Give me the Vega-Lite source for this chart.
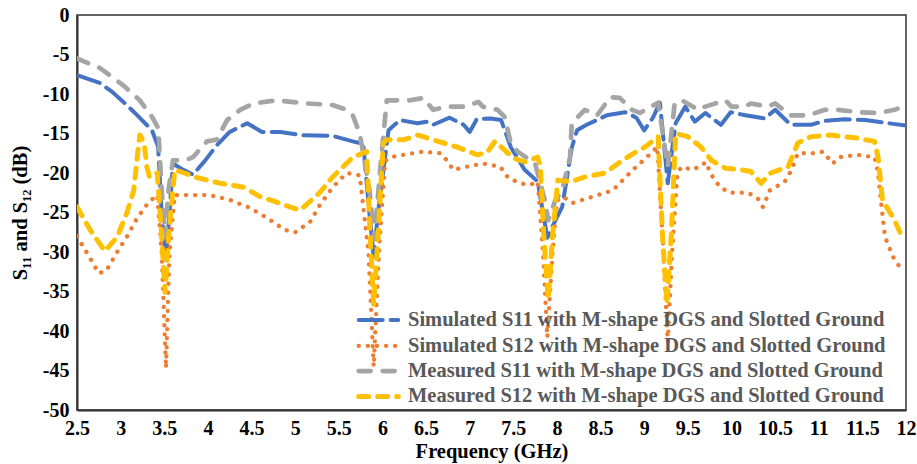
{
  "$schema": "https://vega.github.io/schema/vega-lite/v6.json",
  "width": 829,
  "height": 395,
  "autosize": {"type": "none"},
  "padding": {"left": 77, "top": 15, "right": 11, "bottom": 54},
  "background": "white",
  "config": {
    "view": {"stroke": "#333333", "strokeWidth": 1.5},
    "font": "Liberation Serif"
  },
  "datasets": {
    "d": [
      {"s": "Simulated S11 with M-shape DGS and Slotted Ground", "f": 2.5, "v": -7.6},
      {"s": "Simulated S11 with M-shape DGS and Slotted Ground", "f": 2.76, "v": -8.6},
      {"s": "Simulated S11 with M-shape DGS and Slotted Ground", "f": 2.9, "v": -9.7},
      {"s": "Simulated S11 with M-shape DGS and Slotted Ground", "f": 3.07, "v": -11.4},
      {"s": "Simulated S11 with M-shape DGS and Slotted Ground", "f": 3.2, "v": -12.8},
      {"s": "Simulated S11 with M-shape DGS and Slotted Ground", "f": 3.36, "v": -14.6},
      {"s": "Simulated S11 with M-shape DGS and Slotted Ground", "f": 3.43, "v": -16.7},
      {"s": "Simulated S11 with M-shape DGS and Slotted Ground", "f": 3.47, "v": -25},
      {"s": "Simulated S11 with M-shape DGS and Slotted Ground", "f": 3.52, "v": -31},
      {"s": "Simulated S11 with M-shape DGS and Slotted Ground", "f": 3.56, "v": -25},
      {"s": "Simulated S11 with M-shape DGS and Slotted Ground", "f": 3.6, "v": -18.8},
      {"s": "Simulated S11 with M-shape DGS and Slotted Ground", "f": 3.7, "v": -19.5},
      {"s": "Simulated S11 with M-shape DGS and Slotted Ground", "f": 3.83, "v": -20.2},
      {"s": "Simulated S11 with M-shape DGS and Slotted Ground", "f": 3.97, "v": -18.4},
      {"s": "Simulated S11 with M-shape DGS and Slotted Ground", "f": 4.1, "v": -16.5},
      {"s": "Simulated S11 with M-shape DGS and Slotted Ground", "f": 4.25, "v": -14.8},
      {"s": "Simulated S11 with M-shape DGS and Slotted Ground", "f": 4.45, "v": -13.7},
      {"s": "Simulated S11 with M-shape DGS and Slotted Ground", "f": 4.62, "v": -14.8},
      {"s": "Simulated S11 with M-shape DGS and Slotted Ground", "f": 4.83, "v": -14.8},
      {"s": "Simulated S11 with M-shape DGS and Slotted Ground", "f": 5.06, "v": -15.2},
      {"s": "Simulated S11 with M-shape DGS and Slotted Ground", "f": 5.43, "v": -15.3},
      {"s": "Simulated S11 with M-shape DGS and Slotted Ground", "f": 5.66, "v": -16.0},
      {"s": "Simulated S11 with M-shape DGS and Slotted Ground", "f": 5.78, "v": -16.3},
      {"s": "Simulated S11 with M-shape DGS and Slotted Ground", "f": 5.85, "v": -25},
      {"s": "Simulated S11 with M-shape DGS and Slotted Ground", "f": 5.9, "v": -30.6},
      {"s": "Simulated S11 with M-shape DGS and Slotted Ground", "f": 5.95, "v": -25},
      {"s": "Simulated S11 with M-shape DGS and Slotted Ground", "f": 6.07, "v": -14.6},
      {"s": "Simulated S11 with M-shape DGS and Slotted Ground", "f": 6.2, "v": -13.3},
      {"s": "Simulated S11 with M-shape DGS and Slotted Ground", "f": 6.4, "v": -13.7},
      {"s": "Simulated S11 with M-shape DGS and Slotted Ground", "f": 6.51, "v": -13.5},
      {"s": "Simulated S11 with M-shape DGS and Slotted Ground", "f": 6.58, "v": -13.9},
      {"s": "Simulated S11 with M-shape DGS and Slotted Ground", "f": 6.77, "v": -13.0},
      {"s": "Simulated S11 with M-shape DGS and Slotted Ground", "f": 6.93, "v": -13.9},
      {"s": "Simulated S11 with M-shape DGS and Slotted Ground", "f": 7.0, "v": -14.8},
      {"s": "Simulated S11 with M-shape DGS and Slotted Ground", "f": 7.08, "v": -13.2},
      {"s": "Simulated S11 with M-shape DGS and Slotted Ground", "f": 7.24, "v": -13.1},
      {"s": "Simulated S11 with M-shape DGS and Slotted Ground", "f": 7.36, "v": -13.3},
      {"s": "Simulated S11 with M-shape DGS and Slotted Ground", "f": 7.47, "v": -16.7},
      {"s": "Simulated S11 with M-shape DGS and Slotted Ground", "f": 7.63, "v": -19.6},
      {"s": "Simulated S11 with M-shape DGS and Slotted Ground", "f": 7.78, "v": -21.1},
      {"s": "Simulated S11 with M-shape DGS and Slotted Ground", "f": 7.84, "v": -25},
      {"s": "Simulated S11 with M-shape DGS and Slotted Ground", "f": 7.89, "v": -28.2},
      {"s": "Simulated S11 with M-shape DGS and Slotted Ground", "f": 7.96, "v": -26.5},
      {"s": "Simulated S11 with M-shape DGS and Slotted Ground", "f": 8.06, "v": -24.3},
      {"s": "Simulated S11 with M-shape DGS and Slotted Ground", "f": 8.17, "v": -16.8},
      {"s": "Simulated S11 with M-shape DGS and Slotted Ground", "f": 8.23, "v": -14.6},
      {"s": "Simulated S11 with M-shape DGS and Slotted Ground", "f": 8.34, "v": -13.9},
      {"s": "Simulated S11 with M-shape DGS and Slotted Ground", "f": 8.57, "v": -12.7},
      {"s": "Simulated S11 with M-shape DGS and Slotted Ground", "f": 8.78, "v": -12.3},
      {"s": "Simulated S11 with M-shape DGS and Slotted Ground", "f": 8.91, "v": -13.0},
      {"s": "Simulated S11 with M-shape DGS and Slotted Ground", "f": 9.0, "v": -14.6},
      {"s": "Simulated S11 with M-shape DGS and Slotted Ground", "f": 9.1, "v": -13.0},
      {"s": "Simulated S11 with M-shape DGS and Slotted Ground", "f": 9.18, "v": -11.1},
      {"s": "Simulated S11 with M-shape DGS and Slotted Ground", "f": 9.27, "v": -21.3},
      {"s": "Simulated S11 with M-shape DGS and Slotted Ground", "f": 9.36, "v": -13.7},
      {"s": "Simulated S11 with M-shape DGS and Slotted Ground", "f": 9.47, "v": -11.6},
      {"s": "Simulated S11 with M-shape DGS and Slotted Ground", "f": 9.58, "v": -13.5},
      {"s": "Simulated S11 with M-shape DGS and Slotted Ground", "f": 9.7, "v": -12.4},
      {"s": "Simulated S11 with M-shape DGS and Slotted Ground", "f": 9.88, "v": -13.9},
      {"s": "Simulated S11 with M-shape DGS and Slotted Ground", "f": 9.99, "v": -12.3},
      {"s": "Simulated S11 with M-shape DGS and Slotted Ground", "f": 10.16, "v": -12.7},
      {"s": "Simulated S11 with M-shape DGS and Slotted Ground", "f": 10.38, "v": -13.1},
      {"s": "Simulated S11 with M-shape DGS and Slotted Ground", "f": 10.5, "v": -12.0},
      {"s": "Simulated S11 with M-shape DGS and Slotted Ground", "f": 10.68, "v": -13.9},
      {"s": "Simulated S11 with M-shape DGS and Slotted Ground", "f": 10.91, "v": -13.9},
      {"s": "Simulated S11 with M-shape DGS and Slotted Ground", "f": 11.07, "v": -13.4},
      {"s": "Simulated S11 with M-shape DGS and Slotted Ground", "f": 11.3, "v": -13.2},
      {"s": "Simulated S11 with M-shape DGS and Slotted Ground", "f": 11.53, "v": -13.3},
      {"s": "Simulated S11 with M-shape DGS and Slotted Ground", "f": 12.0, "v": -14.0},

      {"s": "Simulated S12 with M-shape DGS and Slotted Ground", "f": 2.5, "v": -28.0},
      {"s": "Simulated S12 with M-shape DGS and Slotted Ground", "f": 2.64, "v": -30.6},
      {"s": "Simulated S12 with M-shape DGS and Slotted Ground", "f": 2.75, "v": -32.7},
      {"s": "Simulated S12 with M-shape DGS and Slotted Ground", "f": 2.84, "v": -32.3},
      {"s": "Simulated S12 with M-shape DGS and Slotted Ground", "f": 2.96, "v": -30.0},
      {"s": "Simulated S12 with M-shape DGS and Slotted Ground", "f": 3.07, "v": -28.1},
      {"s": "Simulated S12 with M-shape DGS and Slotted Ground", "f": 3.19, "v": -25.7},
      {"s": "Simulated S12 with M-shape DGS and Slotted Ground", "f": 3.32, "v": -23.7},
      {"s": "Simulated S12 with M-shape DGS and Slotted Ground", "f": 3.42, "v": -22.8},
      {"s": "Simulated S12 with M-shape DGS and Slotted Ground", "f": 3.47, "v": -30},
      {"s": "Simulated S12 with M-shape DGS and Slotted Ground", "f": 3.52, "v": -44.7},
      {"s": "Simulated S12 with M-shape DGS and Slotted Ground", "f": 3.56, "v": -30},
      {"s": "Simulated S12 with M-shape DGS and Slotted Ground", "f": 3.62, "v": -22.8},
      {"s": "Simulated S12 with M-shape DGS and Slotted Ground", "f": 3.79, "v": -22.8},
      {"s": "Simulated S12 with M-shape DGS and Slotted Ground", "f": 4.02, "v": -22.8},
      {"s": "Simulated S12 with M-shape DGS and Slotted Ground", "f": 4.25, "v": -23.4},
      {"s": "Simulated S12 with M-shape DGS and Slotted Ground", "f": 4.48, "v": -24.4},
      {"s": "Simulated S12 with M-shape DGS and Slotted Ground", "f": 4.68, "v": -25.7},
      {"s": "Simulated S12 with M-shape DGS and Slotted Ground", "f": 4.88, "v": -27.2},
      {"s": "Simulated S12 with M-shape DGS and Slotted Ground", "f": 5.0, "v": -27.5},
      {"s": "Simulated S12 with M-shape DGS and Slotted Ground", "f": 5.17, "v": -26.2},
      {"s": "Simulated S12 with M-shape DGS and Slotted Ground", "f": 5.28, "v": -24.1},
      {"s": "Simulated S12 with M-shape DGS and Slotted Ground", "f": 5.43, "v": -21.8},
      {"s": "Simulated S12 with M-shape DGS and Slotted Ground", "f": 5.59, "v": -20.0},
      {"s": "Simulated S12 with M-shape DGS and Slotted Ground", "f": 5.74, "v": -20.3},
      {"s": "Simulated S12 with M-shape DGS and Slotted Ground", "f": 5.84, "v": -30},
      {"s": "Simulated S12 with M-shape DGS and Slotted Ground", "f": 5.9, "v": -44.5},
      {"s": "Simulated S12 with M-shape DGS and Slotted Ground", "f": 5.96, "v": -30},
      {"s": "Simulated S12 with M-shape DGS and Slotted Ground", "f": 6.03, "v": -18.5},
      {"s": "Simulated S12 with M-shape DGS and Slotted Ground", "f": 6.09, "v": -18.0},
      {"s": "Simulated S12 with M-shape DGS and Slotted Ground", "f": 6.24, "v": -17.7},
      {"s": "Simulated S12 with M-shape DGS and Slotted Ground", "f": 6.46, "v": -17.3},
      {"s": "Simulated S12 with M-shape DGS and Slotted Ground", "f": 6.66, "v": -17.5},
      {"s": "Simulated S12 with M-shape DGS and Slotted Ground", "f": 6.74, "v": -18.4},
      {"s": "Simulated S12 with M-shape DGS and Slotted Ground", "f": 6.81, "v": -19.6},
      {"s": "Simulated S12 with M-shape DGS and Slotted Ground", "f": 6.97, "v": -19.2},
      {"s": "Simulated S12 with M-shape DGS and Slotted Ground", "f": 7.15, "v": -18.8},
      {"s": "Simulated S12 with M-shape DGS and Slotted Ground", "f": 7.35, "v": -19.2},
      {"s": "Simulated S12 with M-shape DGS and Slotted Ground", "f": 7.44, "v": -20.6},
      {"s": "Simulated S12 with M-shape DGS and Slotted Ground", "f": 7.58, "v": -21.3},
      {"s": "Simulated S12 with M-shape DGS and Slotted Ground", "f": 7.69, "v": -21.5},
      {"s": "Simulated S12 with M-shape DGS and Slotted Ground", "f": 7.78, "v": -21.1},
      {"s": "Simulated S12 with M-shape DGS and Slotted Ground", "f": 7.84, "v": -30},
      {"s": "Simulated S12 with M-shape DGS and Slotted Ground", "f": 7.89, "v": -40.8},
      {"s": "Simulated S12 with M-shape DGS and Slotted Ground", "f": 7.95, "v": -30},
      {"s": "Simulated S12 with M-shape DGS and Slotted Ground", "f": 8.0, "v": -23.5},
      {"s": "Simulated S12 with M-shape DGS and Slotted Ground", "f": 8.07, "v": -23.0},
      {"s": "Simulated S12 with M-shape DGS and Slotted Ground", "f": 8.18, "v": -23.8},
      {"s": "Simulated S12 with M-shape DGS and Slotted Ground", "f": 8.41, "v": -23.0},
      {"s": "Simulated S12 with M-shape DGS and Slotted Ground", "f": 8.64, "v": -22.2},
      {"s": "Simulated S12 with M-shape DGS and Slotted Ground", "f": 8.87, "v": -19.6},
      {"s": "Simulated S12 with M-shape DGS and Slotted Ground", "f": 9.03, "v": -18.0},
      {"s": "Simulated S12 with M-shape DGS and Slotted Ground", "f": 9.15, "v": -16.7},
      {"s": "Simulated S12 with M-shape DGS and Slotted Ground", "f": 9.22, "v": -30},
      {"s": "Simulated S12 with M-shape DGS and Slotted Ground", "f": 9.27, "v": -41.4},
      {"s": "Simulated S12 with M-shape DGS and Slotted Ground", "f": 9.32, "v": -30},
      {"s": "Simulated S12 with M-shape DGS and Slotted Ground", "f": 9.38, "v": -20.0},
      {"s": "Simulated S12 with M-shape DGS and Slotted Ground", "f": 9.43, "v": -19.2},
      {"s": "Simulated S12 with M-shape DGS and Slotted Ground", "f": 9.55, "v": -19.6},
      {"s": "Simulated S12 with M-shape DGS and Slotted Ground", "f": 9.67, "v": -19.0},
      {"s": "Simulated S12 with M-shape DGS and Slotted Ground", "f": 9.7, "v": -18.6},
      {"s": "Simulated S12 with M-shape DGS and Slotted Ground", "f": 9.79, "v": -20.6},
      {"s": "Simulated S12 with M-shape DGS and Slotted Ground", "f": 9.87, "v": -21.8},
      {"s": "Simulated S12 with M-shape DGS and Slotted Ground", "f": 9.98, "v": -22.5},
      {"s": "Simulated S12 with M-shape DGS and Slotted Ground", "f": 10.19, "v": -22.5},
      {"s": "Simulated S12 with M-shape DGS and Slotted Ground", "f": 10.3, "v": -23.2},
      {"s": "Simulated S12 with M-shape DGS and Slotted Ground", "f": 10.36, "v": -24.3},
      {"s": "Simulated S12 with M-shape DGS and Slotted Ground", "f": 10.44, "v": -22.2},
      {"s": "Simulated S12 with M-shape DGS and Slotted Ground", "f": 10.61, "v": -21.1},
      {"s": "Simulated S12 with M-shape DGS and Slotted Ground", "f": 10.69, "v": -19.6},
      {"s": "Simulated S12 with M-shape DGS and Slotted Ground", "f": 10.76, "v": -17.5},
      {"s": "Simulated S12 with M-shape DGS and Slotted Ground", "f": 10.93, "v": -17.5},
      {"s": "Simulated S12 with M-shape DGS and Slotted Ground", "f": 11.05, "v": -17.3},
      {"s": "Simulated S12 with M-shape DGS and Slotted Ground", "f": 11.16, "v": -18.8},
      {"s": "Simulated S12 with M-shape DGS and Slotted Ground", "f": 11.24, "v": -18.0},
      {"s": "Simulated S12 with M-shape DGS and Slotted Ground", "f": 11.44, "v": -17.7},
      {"s": "Simulated S12 with M-shape DGS and Slotted Ground", "f": 11.64, "v": -18.0},
      {"s": "Simulated S12 with M-shape DGS and Slotted Ground", "f": 11.68, "v": -20.0},
      {"s": "Simulated S12 with M-shape DGS and Slotted Ground", "f": 11.72, "v": -24.3},
      {"s": "Simulated S12 with M-shape DGS and Slotted Ground", "f": 11.76, "v": -28.1},
      {"s": "Simulated S12 with M-shape DGS and Slotted Ground", "f": 11.85, "v": -30.6},
      {"s": "Simulated S12 with M-shape DGS and Slotted Ground", "f": 11.97, "v": -32.6},

      {"s": "Measured S11 with M-shape DGS and Slotted Ground", "f": 2.5, "v": -5.5},
      {"s": "Measured S11 with M-shape DGS and Slotted Ground", "f": 2.76, "v": -6.7},
      {"s": "Measured S11 with M-shape DGS and Slotted Ground", "f": 3.03, "v": -8.9},
      {"s": "Measured S11 with M-shape DGS and Slotted Ground", "f": 3.22, "v": -10.8},
      {"s": "Measured S11 with M-shape DGS and Slotted Ground", "f": 3.36, "v": -12.9},
      {"s": "Measured S11 with M-shape DGS and Slotted Ground", "f": 3.43, "v": -14.3},
      {"s": "Measured S11 with M-shape DGS and Slotted Ground", "f": 3.47, "v": -22},
      {"s": "Measured S11 with M-shape DGS and Slotted Ground", "f": 3.51, "v": -28.1},
      {"s": "Measured S11 with M-shape DGS and Slotted Ground", "f": 3.55, "v": -22},
      {"s": "Measured S11 with M-shape DGS and Slotted Ground", "f": 3.6, "v": -18.4},
      {"s": "Measured S11 with M-shape DGS and Slotted Ground", "f": 3.74, "v": -18.4},
      {"s": "Measured S11 with M-shape DGS and Slotted Ground", "f": 3.83, "v": -18.0},
      {"s": "Measured S11 with M-shape DGS and Slotted Ground", "f": 3.99, "v": -16.0},
      {"s": "Measured S11 with M-shape DGS and Slotted Ground", "f": 4.1, "v": -15.8},
      {"s": "Measured S11 with M-shape DGS and Slotted Ground", "f": 4.22, "v": -13.3},
      {"s": "Measured S11 with M-shape DGS and Slotted Ground", "f": 4.37, "v": -12.0},
      {"s": "Measured S11 with M-shape DGS and Slotted Ground", "f": 4.52, "v": -11.2},
      {"s": "Measured S11 with M-shape DGS and Slotted Ground", "f": 4.79, "v": -10.8},
      {"s": "Measured S11 with M-shape DGS and Slotted Ground", "f": 5.14, "v": -11.2},
      {"s": "Measured S11 with M-shape DGS and Slotted Ground", "f": 5.43, "v": -11.4},
      {"s": "Measured S11 with M-shape DGS and Slotted Ground", "f": 5.59, "v": -12.0},
      {"s": "Measured S11 with M-shape DGS and Slotted Ground", "f": 5.66, "v": -12.7},
      {"s": "Measured S11 with M-shape DGS and Slotted Ground", "f": 5.74, "v": -15.0},
      {"s": "Measured S11 with M-shape DGS and Slotted Ground", "f": 5.85, "v": -22},
      {"s": "Measured S11 with M-shape DGS and Slotted Ground", "f": 5.91, "v": -28.4},
      {"s": "Measured S11 with M-shape DGS and Slotted Ground", "f": 5.97, "v": -20},
      {"s": "Measured S11 with M-shape DGS and Slotted Ground", "f": 6.05, "v": -10.8},
      {"s": "Measured S11 with M-shape DGS and Slotted Ground", "f": 6.32, "v": -10.8},
      {"s": "Measured S11 with M-shape DGS and Slotted Ground", "f": 6.47, "v": -10.5},
      {"s": "Measured S11 with M-shape DGS and Slotted Ground", "f": 6.58, "v": -12.0},
      {"s": "Measured S11 with M-shape DGS and Slotted Ground", "f": 6.74, "v": -11.6},
      {"s": "Measured S11 with M-shape DGS and Slotted Ground", "f": 6.95, "v": -11.6},
      {"s": "Measured S11 with M-shape DGS and Slotted Ground", "f": 7.1, "v": -11.0},
      {"s": "Measured S11 with M-shape DGS and Slotted Ground", "f": 7.15, "v": -11.6},
      {"s": "Measured S11 with M-shape DGS and Slotted Ground", "f": 7.32, "v": -12.0},
      {"s": "Measured S11 with M-shape DGS and Slotted Ground", "f": 7.4, "v": -12.9},
      {"s": "Measured S11 with M-shape DGS and Slotted Ground", "f": 7.47, "v": -16.2},
      {"s": "Measured S11 with M-shape DGS and Slotted Ground", "f": 7.55, "v": -17.3},
      {"s": "Measured S11 with M-shape DGS and Slotted Ground", "f": 7.75, "v": -18.8},
      {"s": "Measured S11 with M-shape DGS and Slotted Ground", "f": 7.86, "v": -23.4},
      {"s": "Measured S11 with M-shape DGS and Slotted Ground", "f": 7.9, "v": -26},
      {"s": "Measured S11 with M-shape DGS and Slotted Ground", "f": 7.98, "v": -23.5},
      {"s": "Measured S11 with M-shape DGS and Slotted Ground", "f": 8.06, "v": -22.2},
      {"s": "Measured S11 with M-shape DGS and Slotted Ground", "f": 8.15, "v": -18.0},
      {"s": "Measured S11 with M-shape DGS and Slotted Ground", "f": 8.17, "v": -13.7},
      {"s": "Measured S11 with M-shape DGS and Slotted Ground", "f": 8.32, "v": -12.0},
      {"s": "Measured S11 with M-shape DGS and Slotted Ground", "f": 8.46, "v": -12.7},
      {"s": "Measured S11 with M-shape DGS and Slotted Ground", "f": 8.61, "v": -10.4},
      {"s": "Measured S11 with M-shape DGS and Slotted Ground", "f": 8.72, "v": -10.5},
      {"s": "Measured S11 with M-shape DGS and Slotted Ground", "f": 8.86, "v": -12.0},
      {"s": "Measured S11 with M-shape DGS and Slotted Ground", "f": 8.95, "v": -12.4},
      {"s": "Measured S11 with M-shape DGS and Slotted Ground", "f": 9.16, "v": -11.1},
      {"s": "Measured S11 with M-shape DGS and Slotted Ground", "f": 9.27, "v": -19.2},
      {"s": "Measured S11 with M-shape DGS and Slotted Ground", "f": 9.35, "v": -11.1},
      {"s": "Measured S11 with M-shape DGS and Slotted Ground", "f": 9.43, "v": -10.8},
      {"s": "Measured S11 with M-shape DGS and Slotted Ground", "f": 9.62, "v": -12.0},
      {"s": "Measured S11 with M-shape DGS and Slotted Ground", "f": 9.7, "v": -11.6},
      {"s": "Measured S11 with M-shape DGS and Slotted Ground", "f": 9.93, "v": -10.8},
      {"s": "Measured S11 with M-shape DGS and Slotted Ground", "f": 10.0, "v": -11.6},
      {"s": "Measured S11 with M-shape DGS and Slotted Ground", "f": 10.16, "v": -11.6},
      {"s": "Measured S11 with M-shape DGS and Slotted Ground", "f": 10.22, "v": -11.2},
      {"s": "Measured S11 with M-shape DGS and Slotted Ground", "f": 10.42, "v": -11.6},
      {"s": "Measured S11 with M-shape DGS and Slotted Ground", "f": 10.5, "v": -11.2},
      {"s": "Measured S11 with M-shape DGS and Slotted Ground", "f": 10.68, "v": -12.7},
      {"s": "Measured S11 with M-shape DGS and Slotted Ground", "f": 10.88, "v": -12.7},
      {"s": "Measured S11 with M-shape DGS and Slotted Ground", "f": 11.07, "v": -12.0},
      {"s": "Measured S11 with M-shape DGS and Slotted Ground", "f": 11.22, "v": -12.0},
      {"s": "Measured S11 with M-shape DGS and Slotted Ground", "f": 11.45, "v": -12.3},
      {"s": "Measured S11 with M-shape DGS and Slotted Ground", "f": 11.68, "v": -12.4},
      {"s": "Measured S11 with M-shape DGS and Slotted Ground", "f": 11.87, "v": -12.0},
      {"s": "Measured S11 with M-shape DGS and Slotted Ground", "f": 12.0, "v": -11.4},

      {"s": "Measured S12 with M-shape DGS and Slotted Ground", "f": 2.5, "v": -24.3},
      {"s": "Measured S12 with M-shape DGS and Slotted Ground", "f": 2.65, "v": -27.2},
      {"s": "Measured S12 with M-shape DGS and Slotted Ground", "f": 2.82, "v": -29.9},
      {"s": "Measured S12 with M-shape DGS and Slotted Ground", "f": 2.96, "v": -28.1},
      {"s": "Measured S12 with M-shape DGS and Slotted Ground", "f": 3.07, "v": -25.1},
      {"s": "Measured S12 with M-shape DGS and Slotted Ground", "f": 3.15, "v": -22.2},
      {"s": "Measured S12 with M-shape DGS and Slotted Ground", "f": 3.19, "v": -18.0},
      {"s": "Measured S12 with M-shape DGS and Slotted Ground", "f": 3.22, "v": -15.2},
      {"s": "Measured S12 with M-shape DGS and Slotted Ground", "f": 3.27, "v": -16.2},
      {"s": "Measured S12 with M-shape DGS and Slotted Ground", "f": 3.3, "v": -19.2},
      {"s": "Measured S12 with M-shape DGS and Slotted Ground", "f": 3.33, "v": -20.5},
      {"s": "Measured S12 with M-shape DGS and Slotted Ground", "f": 3.42, "v": -20.0},
      {"s": "Measured S12 with M-shape DGS and Slotted Ground", "f": 3.47, "v": -28},
      {"s": "Measured S12 with M-shape DGS and Slotted Ground", "f": 3.51, "v": -35.1},
      {"s": "Measured S12 with M-shape DGS and Slotted Ground", "f": 3.55, "v": -28},
      {"s": "Measured S12 with M-shape DGS and Slotted Ground", "f": 3.62, "v": -19.6},
      {"s": "Measured S12 with M-shape DGS and Slotted Ground", "f": 3.73, "v": -20.0},
      {"s": "Measured S12 with M-shape DGS and Slotted Ground", "f": 3.88, "v": -20.6},
      {"s": "Measured S12 with M-shape DGS and Slotted Ground", "f": 4.14, "v": -21.3},
      {"s": "Measured S12 with M-shape DGS and Slotted Ground", "f": 4.41, "v": -21.8},
      {"s": "Measured S12 with M-shape DGS and Slotted Ground", "f": 4.6, "v": -23.0},
      {"s": "Measured S12 with M-shape DGS and Slotted Ground", "f": 4.79, "v": -23.7},
      {"s": "Measured S12 with M-shape DGS and Slotted Ground", "f": 4.94, "v": -24.3},
      {"s": "Measured S12 with M-shape DGS and Slotted Ground", "f": 5.06, "v": -24.7},
      {"s": "Measured S12 with M-shape DGS and Slotted Ground", "f": 5.28, "v": -22.5},
      {"s": "Measured S12 with M-shape DGS and Slotted Ground", "f": 5.43, "v": -20.5},
      {"s": "Measured S12 with M-shape DGS and Slotted Ground", "f": 5.66, "v": -18.0},
      {"s": "Measured S12 with M-shape DGS and Slotted Ground", "f": 5.82, "v": -17.3},
      {"s": "Measured S12 with M-shape DGS and Slotted Ground", "f": 5.86, "v": -28},
      {"s": "Measured S12 with M-shape DGS and Slotted Ground", "f": 5.9, "v": -36.7},
      {"s": "Measured S12 with M-shape DGS and Slotted Ground", "f": 5.95, "v": -28},
      {"s": "Measured S12 with M-shape DGS and Slotted Ground", "f": 6.01, "v": -16.2},
      {"s": "Measured S12 with M-shape DGS and Slotted Ground", "f": 6.05, "v": -15.8},
      {"s": "Measured S12 with M-shape DGS and Slotted Ground", "f": 6.24, "v": -15.8},
      {"s": "Measured S12 with M-shape DGS and Slotted Ground", "f": 6.41, "v": -15.2},
      {"s": "Measured S12 with M-shape DGS and Slotted Ground", "f": 6.58, "v": -15.8},
      {"s": "Measured S12 with M-shape DGS and Slotted Ground", "f": 6.85, "v": -16.7},
      {"s": "Measured S12 with M-shape DGS and Slotted Ground", "f": 7.09, "v": -17.7},
      {"s": "Measured S12 with M-shape DGS and Slotted Ground", "f": 7.2, "v": -17.4},
      {"s": "Measured S12 with M-shape DGS and Slotted Ground", "f": 7.29, "v": -16.0},
      {"s": "Measured S12 with M-shape DGS and Slotted Ground", "f": 7.36, "v": -16.7},
      {"s": "Measured S12 with M-shape DGS and Slotted Ground", "f": 7.5, "v": -18.1},
      {"s": "Measured S12 with M-shape DGS and Slotted Ground", "f": 7.63, "v": -18.6},
      {"s": "Measured S12 with M-shape DGS and Slotted Ground", "f": 7.78, "v": -18.0},
      {"s": "Measured S12 with M-shape DGS and Slotted Ground", "f": 7.81, "v": -19.2},
      {"s": "Measured S12 with M-shape DGS and Slotted Ground", "f": 7.85, "v": -28},
      {"s": "Measured S12 with M-shape DGS and Slotted Ground", "f": 7.9, "v": -36},
      {"s": "Measured S12 with M-shape DGS and Slotted Ground", "f": 7.95, "v": -28},
      {"s": "Measured S12 with M-shape DGS and Slotted Ground", "f": 8.01, "v": -20.9},
      {"s": "Measured S12 with M-shape DGS and Slotted Ground", "f": 8.16, "v": -21.1},
      {"s": "Measured S12 with M-shape DGS and Slotted Ground", "f": 8.32, "v": -20.5},
      {"s": "Measured S12 with M-shape DGS and Slotted Ground", "f": 8.55, "v": -20.0},
      {"s": "Measured S12 with M-shape DGS and Slotted Ground", "f": 8.7, "v": -18.8},
      {"s": "Measured S12 with M-shape DGS and Slotted Ground", "f": 8.85, "v": -17.7},
      {"s": "Measured S12 with M-shape DGS and Slotted Ground", "f": 9.01, "v": -16.7},
      {"s": "Measured S12 with M-shape DGS and Slotted Ground", "f": 9.16, "v": -15.4},
      {"s": "Measured S12 with M-shape DGS and Slotted Ground", "f": 9.21, "v": -28},
      {"s": "Measured S12 with M-shape DGS and Slotted Ground", "f": 9.26, "v": -36.6},
      {"s": "Measured S12 with M-shape DGS and Slotted Ground", "f": 9.31, "v": -28},
      {"s": "Measured S12 with M-shape DGS and Slotted Ground", "f": 9.36, "v": -15.0},
      {"s": "Measured S12 with M-shape DGS and Slotted Ground", "f": 9.5, "v": -15.4},
      {"s": "Measured S12 with M-shape DGS and Slotted Ground", "f": 9.65, "v": -16.7},
      {"s": "Measured S12 with M-shape DGS and Slotted Ground", "f": 9.77, "v": -18.4},
      {"s": "Measured S12 with M-shape DGS and Slotted Ground", "f": 9.93, "v": -19.4},
      {"s": "Measured S12 with M-shape DGS and Slotted Ground", "f": 10.11, "v": -19.6},
      {"s": "Measured S12 with M-shape DGS and Slotted Ground", "f": 10.22, "v": -19.8},
      {"s": "Measured S12 with M-shape DGS and Slotted Ground", "f": 10.34, "v": -21.3},
      {"s": "Measured S12 with M-shape DGS and Slotted Ground", "f": 10.45, "v": -20.0},
      {"s": "Measured S12 with M-shape DGS and Slotted Ground", "f": 10.65, "v": -19.2},
      {"s": "Measured S12 with M-shape DGS and Slotted Ground", "f": 10.76, "v": -16.2},
      {"s": "Measured S12 with M-shape DGS and Slotted Ground", "f": 10.91, "v": -15.4},
      {"s": "Measured S12 with M-shape DGS and Slotted Ground", "f": 11.14, "v": -15.2},
      {"s": "Measured S12 with M-shape DGS and Slotted Ground", "f": 11.45, "v": -15.6},
      {"s": "Measured S12 with M-shape DGS and Slotted Ground", "f": 11.64, "v": -16.0},
      {"s": "Measured S12 with M-shape DGS and Slotted Ground", "f": 11.68, "v": -18.0},
      {"s": "Measured S12 with M-shape DGS and Slotted Ground", "f": 11.73, "v": -23.4},
      {"s": "Measured S12 with M-shape DGS and Slotted Ground", "f": 11.87, "v": -26.0},
      {"s": "Measured S12 with M-shape DGS and Slotted Ground", "f": 11.97, "v": -28.5}
    ]
  },
  "data": {"name": "d"},
  "mark": {"type": "line", "strokeCap": "round", "strokeJoin": "round", "clip": true},
  "encoding": {
    "x": {
      "field": "f", "type": "quantitative",
      "scale": {"domain": [2.5, 12], "nice": false, "zero": false},
      "axis": {
        "title": "Frequency (GHz)",
        "values": [2.5, 3, 3.5, 4, 4.5, 5, 5.5, 6, 6.5, 7, 7.5, 8, 8.5, 9, 9.5, 10, 10.5, 11, 11.5, 12],
        "labelExpr": "toString(datum.value)",
        "grid": false, "ticks": false,
        "domainColor": "#333333", "domainWidth": 2,
        "labelFont": "Liberation Serif", "labelFontWeight": "bold", "labelFontSize": 20, "labelColor": "#000000",
        "labelPadding": 8, "labelFlush": false,
        "titleFont": "Liberation Serif", "titleFontWeight": "bold", "titleFontSize": 20.5, "titleColor": "#000000",
        "titlePadding": 3
      }
    },
    "y": {
      "field": "v", "type": "quantitative",
      "scale": {"domain": [-50, 0], "nice": false},
      "axis": {
        "title": "S₁₁ and S₁₂ (dB)",
        "values": [0, -5, -10, -15, -20, -25, -30, -35, -40, -45, -50],
        "labelExpr": "toString(datum.value)",
        "grid": false, "ticks": false,
        "domainColor": "#333333", "domainWidth": 2,
        "labelFont": "Liberation Serif", "labelFontWeight": "bold", "labelFontSize": 20, "labelColor": "#000000",
        "labelPadding": 8,
        "titleFont": "Liberation Serif", "titleFontWeight": "bold", "titleFontSize": 20.5, "titleColor": "#000000",
        "titlePadding": 12
      }
    },
    "color": {
      "field": "s", "type": "nominal",
      "scale": {
        "domain": ["Simulated S11 with M-shape DGS and Slotted Ground", "Simulated S12 with M-shape DGS and Slotted Ground", "Measured S11 with M-shape DGS and Slotted Ground", "Measured S12 with M-shape DGS and Slotted Ground"],
        "range": ["#4472C4", "#ED7D31", "#A5A5A5", "#FFC000"]
      },
      "legend": {
        "title": null,
        "orient": "none",
        "legendX": 290,
        "legendY": 294,
        "symbolType": "M-2.2,0H2.2",
        "symbolSize": 324,
        "symbolStrokeWidth": 4.5,
        "labelFont": "Liberation Serif", "labelFontWeight": "bold", "labelFontSize": 20.5, "labelColor": "#595959",
        "labelLimit": 700,
        "labelOffset": 18,
        "rowPadding": 3.3,
        "encode": {"symbols": {"update": {"strokeCap": {"value": "round"}}}}
      }
    },
    "strokeDash": {
      "field": "s", "type": "nominal",
      "scale": {
        "domain": ["Simulated S11 with M-shape DGS and Slotted Ground", "Simulated S12 with M-shape DGS and Slotted Ground", "Measured S11 with M-shape DGS and Slotted Ground", "Measured S12 with M-shape DGS and Slotted Ground"],
        "range": [[24, 8], [0.1, 9], [12, 12], [10, 9]]
      }
    },
    "strokeWidth": {
      "field": "s", "type": "nominal",
      "scale": {
        "domain": ["Simulated S11 with M-shape DGS and Slotted Ground", "Simulated S12 with M-shape DGS and Slotted Ground", "Measured S11 with M-shape DGS and Slotted Ground", "Measured S12 with M-shape DGS and Slotted Ground"],
        "range": [4, 5, 4.5, 4.5]
      }
    }
  }
}
